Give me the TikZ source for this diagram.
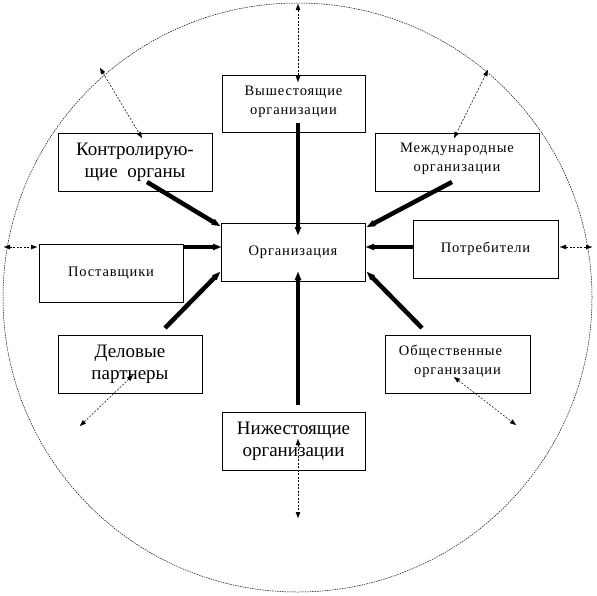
\documentclass[tikz,border=0pt]{standalone}
\usepackage{fontspec}
\setmainfont{Liberation Serif}
\usetikzlibrary{arrows.meta}
\newfontfamily\spacedfont[LetterSpace=6]{Liberation Serif}
\newcommand{\twoline}[3]{\raisebox{#1}[\height][\depth]{\begin{tabular}{@{}c@{}}#2\\#3\end{tabular}}}
\begin{document}
\begin{tikzpicture}[x=1pt,y=-1pt,
  box/.style={draw, line width=0.8pt, inner sep=0pt, outer sep=0pt, align=center},
  small/.style={font=\spacedfont\fontsize{14.5}{19}\selectfont},
  big/.style={font=\fontsize{19}{22}\selectfont},
  thickline/.style={line width=4.5pt, -{Triangle[length=8pt,width=6.5pt,line width=0.01pt]}},
  dotarrow/.style={line width=0.5pt, dash pattern=on 2pt off 1.5pt,
    {Triangle[length=6pt,width=4.5pt,line width=0.01pt]}-{Triangle[length=6pt,width=4.5pt,line width=0.01pt]}},
  ring/.style={line width=0.5pt, dash pattern=on 1.5pt off 1pt}
]
\useasboundingbox (0,0) rectangle (597,595);
\draw[ring] (297.5,297.5) circle[radius=294.5pt];

% boxes
\node[box,small,minimum width=143pt,minimum height=57pt] (up) at (293.5,103.5) {\twoline{2pt}{Вышестоящие}{организации}};
\node[box,big,minimum width=154pt,minimum height=58pt] (ctrl) at (135,162) {Контролирую-\\щие\ \ органы};
\node[box,small,minimum width=164pt,minimum height=58pt] (intl) at (457,162) {\twoline{4pt}{Международные}{организации}};
\node[box,small,minimum width=144pt,minimum height=58pt] (org) at (293,252) {Организация};
\node[box,small,minimum width=144pt,minimum height=58pt] (supp) at (111,273) {Поставщики};
\node[box,small,minimum width=145pt,minimum height=58pt] (cons) at (485.5,249) {Потребители};
\node[box,big,minimum width=144pt,minimum height=58pt] (part) at (130,364) {Деловые\\партнеры};
\node[box,small,minimum width=145pt,minimum height=58pt] (pub) at (457.5,364) {\twoline{3pt}{Общественные\hspace*{14pt}}{организации}};
\node[box,big,minimum width=143pt,minimum height=58pt] (down) at (293.5,441) {Нижестоящие\\организации};

% thick connector endpoints
\coordinate (t1a) at (298,123); \coordinate (t1b) at (298,235);
\coordinate (t2a) at (147,182); \coordinate (t2b) at (220,226);
\coordinate (t3a) at (452,182); \coordinate (t3b) at (367,227);
\coordinate (t4a) at (183,247); \coordinate (t4b) at (221,247);
\coordinate (t5a) at (413,247); \coordinate (t5b) at (366,247);
\coordinate (t6a) at (165,328); \coordinate (t6b) at (220,272);
\coordinate (t7a) at (422,328); \coordinate (t7b) at (367,272);
\coordinate (t8a) at (298,405); \coordinate (t8b) at (298,272);
\foreach \i in {1,...,8} \draw[thickline] (t\i a) -- (t\i b);

% dotted double arrows
\coordinate (d1a) at (298,4);   \coordinate (d1b) at (298,82);
\coordinate (d2a) at (100,68);  \coordinate (d2b) at (142,138);
\coordinate (d3a) at (488,70);  \coordinate (d3b) at (454,138);
\coordinate (d4a) at (4,247);   \coordinate (d4b) at (37,247);
\coordinate (d5a) at (560,247); \coordinate (d5b) at (592,247);
\coordinate (d6a) at (133,375); \coordinate (d6b) at (80,426);
\coordinate (d7a) at (454,377); \coordinate (d7b) at (516,425);
\coordinate (d8a) at (298,439); \coordinate (d8b) at (298,518);
\foreach \i in {1,...,8} \draw[dotarrow] (d\i a) -- (d\i b);
\end{tikzpicture}
\end{document}
